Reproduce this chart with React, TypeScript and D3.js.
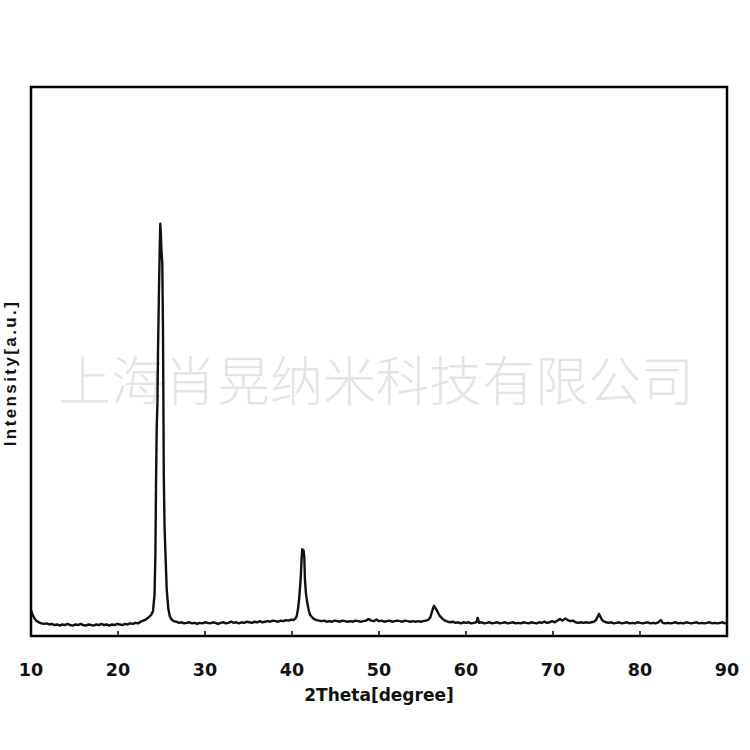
import React from "react";
import * as d3 from "d3";

const twoTheta: number[] = [
  10.0, 10.2, 10.4, 10.6, 10.9, 11.2, 11.5, 11.8, 12.1, 12.4, 12.7, 13.0, 13.3, 13.6, 13.9,
  14.2, 14.5, 14.8, 15.1, 15.4, 15.7, 16.0, 16.3, 16.6, 16.9, 17.2, 17.5, 17.8, 18.1, 18.4,
  18.7, 19.0, 19.3, 19.6, 19.9, 20.2, 20.5, 20.8, 21.1, 21.4, 21.7, 22.0, 22.3, 22.6, 22.9,
  23.2, 23.5, 23.8, 24.02, 24.2, 24.3, 24.37, 24.45, 24.54, 24.6, 24.66, 24.72, 24.77, 24.86,
  24.92, 25.0, 25.09, 25.17, 25.22, 25.26, 25.35, 25.48, 25.6, 25.78, 25.95, 26.17, 26.4,
  26.7, 27.0, 27.3, 27.6, 27.9, 28.2, 28.5, 28.8, 29.1, 29.4, 29.7, 30.0, 30.3, 30.6, 30.9,
  31.2, 31.5, 31.8, 32.1, 32.4, 32.7, 33.0, 33.3, 33.6, 33.9, 34.2, 34.5, 34.8, 35.1, 35.4,
  35.7, 36.0, 36.3, 36.6, 36.9, 37.2, 37.5, 37.8, 38.1, 38.4, 38.7, 39.0, 39.3, 39.6, 39.9,
  40.2, 40.4, 40.54, 40.7, 40.84, 40.95, 41.03, 41.1, 41.18, 41.26, 41.33, 41.41, 41.49,
  41.6, 41.76, 41.95, 42.1, 42.26, 42.5, 42.8, 43.1, 43.4, 43.7, 44.0, 44.3, 44.6, 44.9,
  45.2, 45.5, 45.8, 46.1, 46.4, 46.7, 47.0, 47.3, 47.6, 47.9, 48.2, 48.5, 48.8, 49.1, 49.4,
  49.7, 50.0, 50.3, 50.6, 50.9, 51.2, 51.5, 51.8, 52.1, 52.4, 52.7, 53.0, 53.3, 53.6, 53.9,
  54.2, 54.5, 54.8, 55.1, 55.4, 55.7, 55.9, 56.05, 56.2, 56.32, 56.45, 56.6, 56.8, 57.0,
  57.2, 57.4, 57.6, 57.9, 58.2, 58.5, 58.8, 59.1, 59.4, 59.7, 60.0, 60.3, 60.6, 60.9, 61.2,
  61.35, 61.5, 61.8, 62.1, 62.4, 62.7, 63.0, 63.3, 63.6, 63.9, 64.2, 64.5, 64.8, 65.1, 65.4,
  65.7, 66.0, 66.3, 66.6, 66.9, 67.2, 67.5, 67.8, 68.1, 68.4, 68.7, 69.0, 69.3, 69.6, 69.9,
  70.2, 70.5, 70.8, 71.1, 71.4, 71.7, 72.0, 72.3, 72.6, 72.9, 73.2, 73.5, 73.8, 74.1, 74.4,
  74.7, 74.95, 75.15, 75.29, 75.45, 75.6, 75.8, 76.1, 76.4, 76.7, 77.0, 77.3, 77.6, 77.9,
  78.2, 78.5, 78.8, 79.1, 79.4, 79.7, 80.0, 80.3, 80.6, 80.9, 81.2, 81.5, 81.8, 82.1, 82.4,
  82.6, 82.9, 83.2, 83.5, 83.8, 84.1, 84.4, 84.7, 85.0, 85.3, 85.6, 85.9, 86.2, 86.5, 86.8,
  87.1, 87.4, 87.7, 88.0, 88.3, 88.6, 88.9, 89.2, 89.5, 89.8, 90.0,
];

const intensity: number[] = [
  47, 38, 32, 28, 25, 23, 22, 23, 21, 22, 20, 21, 19, 21, 20,
  22, 20, 19, 21, 20, 22, 20, 19, 21, 20, 19, 21, 20, 22, 20,
  21, 19, 21, 20, 22, 21, 20, 22, 21, 23, 22, 24, 23, 26, 28,
  30, 34, 38, 45, 75, 150, 278, 380, 429, 520, 580, 640, 684, 751,
  735, 700, 680, 560, 420, 296, 200, 138, 85, 50, 36, 30, 27,
  26, 24, 25, 23, 24, 25, 23, 24, 22, 24, 23, 25, 24, 23, 25,
  24, 22, 24, 25, 23, 24, 26, 24, 25, 23, 25, 24, 26, 25, 24,
  26, 25, 27, 25, 26, 27, 26, 28, 27, 26, 28, 27, 29, 28, 30,
  29, 32, 36, 50, 71, 95, 114, 140, 158, 150, 156, 144, 102,
  78, 60, 45, 38, 35, 31, 29, 28, 27, 28, 26, 27, 26, 28,
  27, 26, 28, 27, 26, 27, 26, 28, 27, 26, 27, 28, 31, 28, 27,
  30, 27, 28, 26, 27, 28, 26, 27, 28, 27, 26, 28, 27, 26, 27,
  26, 27, 26, 27, 28, 30, 34, 42, 50, 55, 52, 48, 42, 36,
  33, 30, 28, 26, 25, 26, 24, 25, 23, 25, 24, 25, 23, 24, 25,
  33, 24, 25, 23, 24, 25, 23, 24, 25, 23, 24, 25, 23, 24, 25,
  23, 24, 23, 25, 24, 23, 25, 24, 23, 25, 24, 26, 24, 25, 27,
  25, 28, 31, 28, 32, 29, 27, 28, 25, 24, 25, 24, 25, 24, 25,
  26, 29, 36, 40, 35, 30, 27, 25, 24, 25, 23, 24, 25, 23,
  24, 25, 23, 24, 23, 25, 24, 23, 24, 25, 23, 24, 23, 25, 29,
  24, 23, 24, 23, 24, 25, 23, 24, 23, 25, 24, 23, 24, 25, 23,
  24, 23, 24, 25, 23, 24, 23, 24, 25, 23, 24,
];

const xTicks: number[] = [10, 20, 30, 40, 50, 60, 70, 80, 90];
const xTitle = "2Theta[degree]";
const yTitle = "Intensity[a.u.]";
const watermark = "上海肖晃纳米科技有限公司";

export default function App() {
  const W = 750;
  const H = 750;
  const left = 31;
  const right = 727;
  const top = 87;
  const bottom = 636;

  const x = d3.scaleLinear().domain([10, 90]).range([left, right]);
  const y = d3.scaleLinear().domain([0, 1000]).range([bottom, top]);

  const pts: [number, number][] = twoTheta.map((t, i) => [t, intensity[i]]);
  const line = d3
    .line<[number, number]>()
    .x((d) => x(d[0]))
    .y((d) => y(d[1]));

  return (
    <svg
      width={W}
      height={H}
      style={{ position: "absolute", left: 0, top: 0, background: "#fff" }}
    >
      <rect x={0} y={0} width={W} height={H} fill="#fff" />
      <text
        x={376}
        y={401}
        textAnchor="middle"
        fontFamily="'Noto Sans CJK SC', sans-serif"
        fontWeight={300}
        fontSize={53}
        fill="#e4e4e4"
      >
        {watermark}
      </text>
      <path
        d={line(pts) || ""}
        fill="none"
        stroke="#111"
        strokeWidth={2.4}
        strokeLinejoin="round"
      />
      <rect
        x={left}
        y={top}
        width={right - left}
        height={bottom - top}
        fill="none"
        stroke="#000"
        strokeWidth={2.5}
      />
      {xTicks.map((t) => (
        <g key={t}>
          {t > 10 && t < 90 && (
            <line x1={x(t)} x2={x(t)} y1={bottom} y2={bottom - 5} stroke="#000" strokeWidth={1.5} />
          )}
          <text
            x={x(t)}
            y={676}
            textAnchor="middle"
            fontFamily="'DejaVu Sans', sans-serif"
            fontWeight="bold"
            fontSize={17.5}
            fill="#111"
          >
            {t}
          </text>
        </g>
      ))}
      <text
        x={379}
        y={701}
        textAnchor="middle"
        fontFamily="'DejaVu Sans', sans-serif"
        fontWeight="bold"
        fontSize={17}
        fill="#111"
      >
        {xTitle}
      </text>
      <text
        transform={`translate(16, 373) rotate(-90)`}
        textAnchor="middle"
        fontFamily="'Liberation Sans', Arial, sans-serif"
        fontWeight="bold"
        fontSize={17}
        letterSpacing={2.4}
        fill="#111"
      >
        {yTitle}
      </text>
    </svg>
  );
}
